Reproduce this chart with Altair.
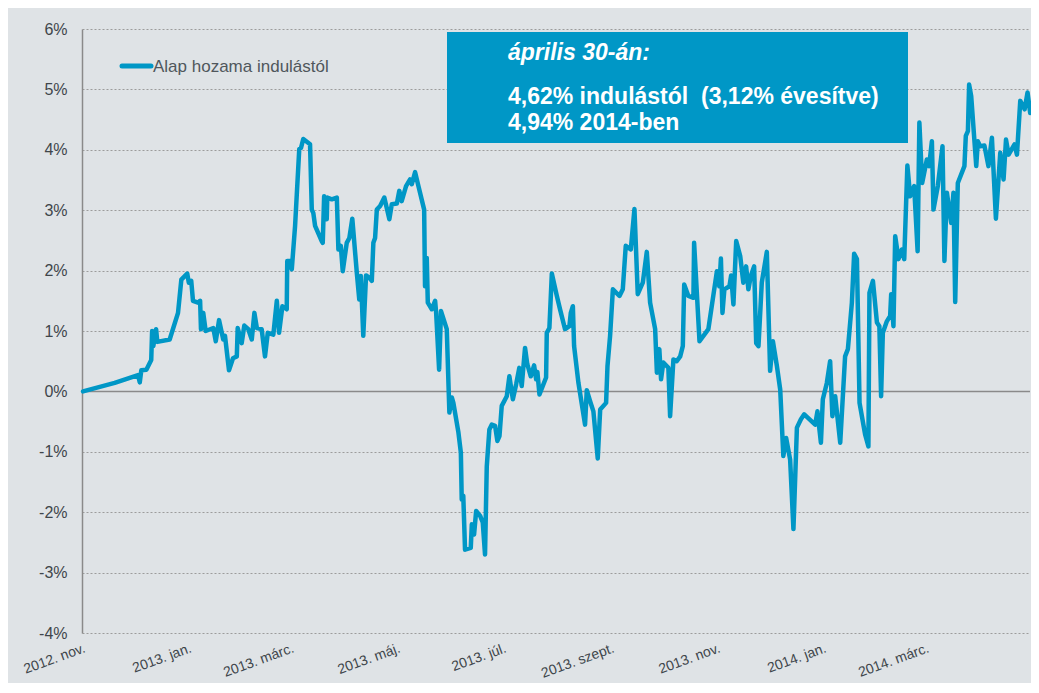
import json
import altair as alt
import pandas as pd

# ---- data (days since 2012-11-01, cumulative return in %) ----
days = [0.6, 18.8, 32.2, 33.2, 34.1, 37.0, 39.8, 40.3, 41.0, 42.6, 43.3, 50.4, 55.2, 57.1, 60.5,
        61.4, 62.8, 63.8, 66.7, 67.9, 68.4, 69.7, 71.1, 75.5, 76.9, 78.8, 81.2, 82.2, 84.5, 86.8,
        89.0, 89.5, 91.8, 93.3, 95.6, 97.6, 99.1, 100.5, 103.3, 105.2, 106.8, 110.0, 112.0, 113.3,
        115.2, 117.7, 118.0, 119.6, 120.6, 122.5, 124.9, 125.9, 127.2, 131.1, 132.1, 133.0, 134.0,
        137.8, 138.4, 139.2, 140.7, 141.0, 143.6, 146.5, 147.4, 148.8, 149.9, 152.2, 153.7, 155.4,
        158.0, 159.4, 160.3, 161.7, 163.3, 165.2, 166.6, 167.5, 168.5, 169.5, 171.4, 173.8, 176.7,
        178.1, 181.0, 182.4, 183.8, 186.3, 188.6, 189.6, 191.5, 193.4, 196.7, 197.2, 198.2, 198.8,
        201.1, 203.0, 203.6, 205.3, 206.4, 209.7, 211.2, 212.6, 213.5, 216.4, 217.8, 218.3, 219.2,
        220.2, 223.5, 224.1, 225.4, 226.6, 228.9, 230.4, 231.7, 232.7, 234.2, 235.6, 237.5, 238.8,
        240.0, 241.3, 244.2, 245.7, 247.7, 249.6, 251.4, 252.8, 254.7, 256.0, 258.0, 259.9, 261.1,
        261.8, 263.0, 266.8, 267.2, 268.7, 270.1, 273.0, 274.9, 277.7, 280.2, 281.0, 282.2, 282.9,
        285.4, 289.2, 290.2, 292.1, 294.0, 296.5, 297.9, 301.3, 302.1, 303.6, 305.2, 309.0, 310.9,
        312.6, 315.5, 317.6, 319.5, 322.4, 324.7, 326.6, 329.5, 330.5, 331.9, 332.9, 334.2, 337.1,
        338.1, 340.0, 341.9, 343.9, 345.4, 346.2, 348.6, 351.5, 351.9, 355.0, 360.1, 365.0, 366.4,
        367.3, 368.2, 369.3, 372.2, 373.2, 374.5, 376.1, 378.4, 380.2, 381.8, 383.1, 384.5, 386.4,
        387.6, 388.9, 390.8, 393.7, 395.6, 397.2, 399.5, 401.4, 403.2, 404.8, 407.1, 409.0, 411.0,
        413.3, 415.2, 421.5, 422.8, 424.8, 425.9, 428.2, 430.1, 431.4, 433.0, 435.9, 438.7, 440.3,
        442.6, 443.9, 445.5, 447.0, 450.2, 452.1, 452.7, 454.7, 457.0, 458.4, 459.4, 460.4, 462.7,
        464.6, 465.2, 466.5, 467.5, 469.4, 471.3, 472.7, 474.5, 476.1, 478.4, 480.4, 481.4, 483.0,
        485.7, 487.0, 488.6, 489.5, 492.0, 494.7, 495.8, 497.2, 499.7, 501.0, 502.0, 503.5, 507.3,
        508.1, 509.3, 510.0, 511.2, 514.1, 515.0, 516.4, 518.8, 521.1, 523.1, 525.4, 527.9, 529.8,
        531.2, 532.7, 536.1, 537.5, 539.4, 541.9, 543.6, 545.1]

returns = [0.00, 0.14, 0.27, 0.15, 0.35, 0.36, 0.52, 1.00, 0.75, 1.03, 0.82, 0.86, 1.30, 1.85, 1.95,
           1.80, 1.83, 1.50, 1.47, 1.50, 1.03, 1.30, 1.00, 1.05, 0.83, 1.18, 0.86, 0.92, 0.35, 0.55,
           0.58, 1.05, 0.80, 1.09, 1.03, 0.86, 1.30, 1.05, 1.03, 0.58, 0.97, 0.94, 1.50, 0.97,
           1.41, 1.36, 2.16, 2.16, 2.02, 2.74, 4.01, 4.03, 4.18, 4.09, 3.01, 2.95, 2.74,
           2.49, 2.46, 3.23, 2.85, 3.21, 3.18, 3.21, 2.35, 2.41, 1.99, 2.46, 2.54, 2.86,
           1.96, 1.52, 1.91, 0.92, 1.92, 1.88, 1.83, 2.46, 2.54, 3.01, 3.07, 3.21, 2.85,
           3.10, 3.11, 3.32, 3.15, 3.40, 3.51, 3.43, 3.63, 3.40, 3.01, 1.74, 2.21, 1.47,
           1.36, 1.50, 1.30, 0.36, 1.33, 1.03, -0.35, -0.10, -0.19, -0.68, -1.01, -1.79, -1.73,
           -2.62, -2.59, -2.20, -2.37, -1.98, -2.06, -2.17, -2.70, -1.24, -0.63, -0.55, -0.57, -0.82,
           -0.74, -0.24, -0.08, 0.25, -0.13, 0.12, 0.39, 0.09, 0.72, 0.45, 0.25, 0.43, 0.20,
           0.32, -0.05, 0.23, 0.97, 1.05, 1.95, 1.58, 1.35, 1.03, 1.08, 1.30, 1.41, 0.75,
           0.14, -0.55, 0.02, -0.16, -0.33, -1.11, -0.30, -0.19, 0.42, 0.92, 1.69, 1.58, 1.69,
           2.41, 2.35, 3.02, 1.61, 1.80, 2.31, 1.47, 1.03, 0.31, 0.70, 0.20, 0.48, 0.39,
           -0.41, 0.53, 0.50, 0.58, 0.75, 1.77, 1.58, 1.55, 2.46, 0.83, 1.03, 1.99, 1.74,
           2.20, 1.30, 1.69, 1.74, 1.92, 1.44, 2.49, 2.24, 1.80, 2.07, 1.69, 1.91, 2.07,
           0.80, 0.75, 1.80, 2.31, 0.34, 0.83, 0.42, 0.03, -1.07, -0.77, -1.13, -2.28, -0.60,
           -0.46, -0.38, -0.55, -0.33, -0.85, -0.13, 0.14, 0.50, -0.41, -0.08, -0.85, 0.58, 0.70,
           1.47, 2.28, 2.19, -0.19, -0.71, -0.91, 1.63, 1.83, 1.14, 1.08, -0.08, 0.97, 1.16,
           1.25, 1.61, 1.08, 2.57, 2.19, 2.35, 2.19, 3.74, 3.23, 3.40, 2.32, 4.45, 3.45,
           3.84, 3.73, 4.14, 3.01, 3.40, 4.06, 2.16, 3.29, 2.79, 3.29, 1.48, 3.45, 3.73,
           4.23, 4.31, 5.08, 4.89, 3.73, 4.14, 4.06, 4.07, 3.73, 4.20, 2.86, 3.95, 3.51,
           4.17, 3.92, 4.09, 3.92, 4.81, 4.67, 4.95, 4.61]

tick_days = [0, 61, 120, 181, 242, 304, 365, 426, 485]
tick_labels = ["2012. nov.", "2013. jan.", "2013. márc.", "2013. máj.", "2013. júl.",
               "2013. szept.", "2013. nov.", "2014. jan.", "2014. márc."]
y_ticks = [-4, -3, -2, -1, 0, 1, 2, 3, 4, 5, 6]

series_name = "Alap hozama indulástól"
box_lines = ["április 30-án:", "4,62% indulástól \u00a0(3,12% évesítve)", "4,94% 2014-ben"]

BLUE = "#0097c6"
BG = "#dfe3e6"
LABEL = "#40464b"
FONT = "Liberation Sans"

df = pd.DataFrame({"day": days, "ret": returns})

x_label_expr = "''"
for d, lab in reversed(list(zip(tick_days, tick_labels))):
    x_label_expr = f"datum.value == {d} ? {json.dumps(lab, ensure_ascii=False)} : ({x_label_expr})"

x_enc = alt.X("day:Q",
              scale=alt.Scale(domain=[0, 545], nice=False, zero=False),
              axis=alt.Axis(values=tick_days, labelExpr=x_label_expr, labelAngle=340,
                            labelAlign="right", labelBaseline="top", labelPadding=8,
                            ticks=False, domain=False, grid=False, title=None,
                            labelFontSize=14, labelColor=LABEL, labelFont=FONT,
                            labelOverlap=False, labelFlush=False, labelBound=False))
y_enc = alt.Y("ret:Q",
              scale=alt.Scale(domain=[-4, 6], nice=False, zero=False),
              axis=alt.Axis(values=y_ticks, labelExpr="datum.value + '%'", grid=True,
                            gridDash=[2, 2], gridColor="#9c9c9c", gridWidth=1,
                            ticks=False, domain=True, domainColor="#8a8a8a", domainWidth=1.5,
                            labelPadding=15, title=None, labelFontSize=16,
                            labelColor=LABEL, labelFont=FONT))

line = alt.Chart(df).mark_line(color=BLUE, strokeWidth=4.5, strokeJoin="round",
                               strokeCap="round").encode(x=x_enc, y=y_enc)

zero = alt.Chart(pd.DataFrame({"z": [0]})).mark_rule(color="#8a8a8a", strokeWidth=1.5).encode(
    y=alt.Y("z:Q"))

legend_line = alt.Chart(pd.DataFrame({"s": [series_name]})).mark_rule(
    color=BLUE, strokeWidth=5, strokeCap="round").encode(
    x=alt.value(40), x2=alt.value(69), y=alt.value(37))
legend_text = alt.Chart(pd.DataFrame({"s": [series_name]})).mark_text(
    align="left", baseline="alphabetic", fontSize=17, color="#50575c", font=FONT).encode(
    x=alt.value(71), y=alt.value(43), text="s:N")

box = alt.Chart(pd.DataFrame({"b": [1]})).mark_rect(color=BLUE).encode(
    x=alt.value(365), x2=alt.value(826), y=alt.value(3), y2=alt.value(114))
box_t1 = alt.Chart(pd.DataFrame({"t": [box_lines[0]]})).mark_text(
    align="left", baseline="alphabetic", fontSize=23, fontWeight="bold", fontStyle="italic",
    color="white", font=FONT).encode(x=alt.value(426), y=alt.value(31), text="t:N")
box_t2 = alt.Chart(pd.DataFrame({"t": [box_lines[1]]})).mark_text(
    align="left", baseline="alphabetic", fontSize=23, fontWeight="bold",
    color="white", font=FONT).encode(x=alt.value(426), y=alt.value(75), text="t:N")
box_t3 = alt.Chart(pd.DataFrame({"t": [box_lines[2]]})).mark_text(
    align="left", baseline="alphabetic", fontSize=23, fontWeight="bold",
    color="white", font=FONT).encode(x=alt.value(426), y=alt.value(101), text="t:N")

chart = alt.layer(zero, line, legend_line, legend_text, box, box_t1, box_t2, box_t3).properties(
    width=948, height=604,
    autosize=alt.AutoSizeParams(type="none"),
    padding={"left": 74, "top": 21, "right": 1, "bottom": 50},
    background=BG,
).configure_view(stroke=None)

chart.save("out.html", embed_options={"renderer": "svg", "actions": False})
